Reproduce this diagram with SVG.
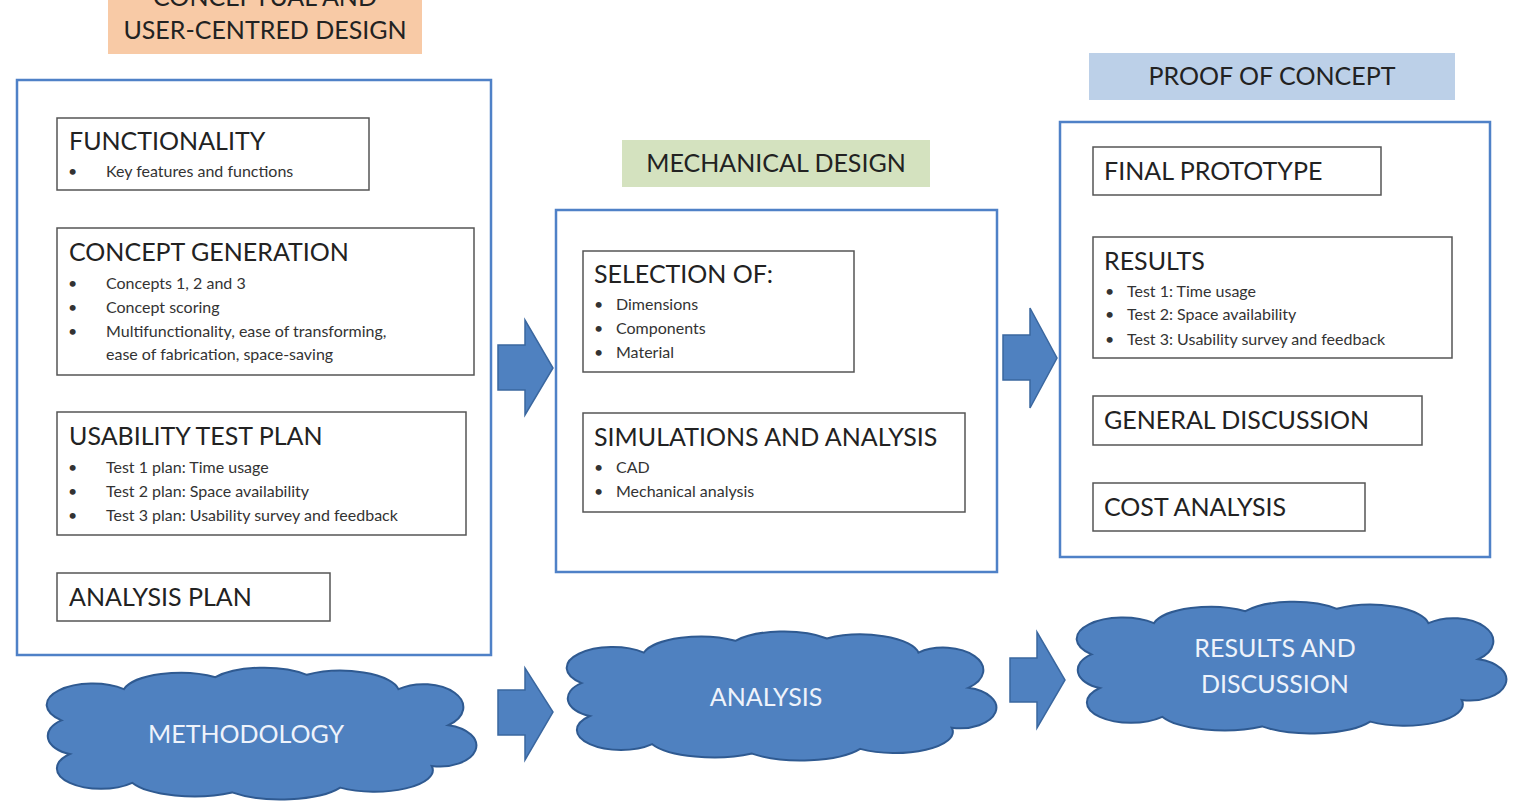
<svg xmlns="http://www.w3.org/2000/svg" width="1520" height="810" viewBox="0 0 1520 810">
<style>
.outer{fill:#fff;stroke:#4f81c7;stroke-width:2.5}
.inner{fill:#fff;stroke:#555;stroke-width:1.5}
.t{font-family:Lato,"Open Sans",sans-serif;font-size:25px;fill:#222}
.s{font-family:Lato,"Open Sans",sans-serif;font-size:16px;fill:#333}
.h{font-family:Lato,"Open Sans",sans-serif;font-size:25px;fill:#222;text-anchor:middle}
.c{font-family:Lato,"Open Sans",sans-serif;font-size:25px;fill:#eef3fb;text-anchor:middle}
.cl{fill:#4f81c0;stroke:#2f5a91;stroke-width:2}
.ar{fill:#4f81c0;stroke:#3a679f;stroke-width:1.5}
</style>
<defs>
<path id="cloud" d="M5,40 A8,8 0 0 1 3,26 A10,8 0 0 1 18,13 A14,9 0 0 1 40,8 A14,9 0 0 1 62,7 A14,9 0 0 1 84,13 A9,9 0 0 1 96,28 A8,8 0 0 1 92,45 A14,9 0 0 1 70,54 A16,9 0 0 1 44,56 A16,9 0 0 1 20,52 A10,8 0 0 1 5,40 Z" vector-effect="non-scaling-stroke"/>
</defs>
<rect width="1520" height="810" fill="#fff"/>

<g id="hdr-conceptual">
<rect x="108" y="-10" width="314" height="64" fill="#f8caa6"/>
<text class="h" x="265" y="6">CONCEPTUAL AND</text>
<text class="h" x="265" y="39">USER-CENTRED DESIGN</text>
</g>
<g id="hdr-mech"><rect x="622" y="140" width="308" height="47" fill="#d4e2bf"/><text class="h" x="776" y="172">MECHANICAL DESIGN</text></g>
<g id="hdr-proof"><rect x="1089" y="53" width="366" height="47" fill="#bcd0e8"/><text class="h" x="1272" y="85">PROOF OF CONCEPT</text></g>

<g id="left-box">
<rect class="outer" x="17" y="80" width="474" height="575"/>
<g id="functionality"><rect class="inner" x="57" y="118" width="312" height="72"/>
<text class="t" x="69" y="150">FUNCTIONALITY</text>
<text class="s" x="68" y="177">•</text><text class="s" x="106" y="177">Key features and functions</text></g>
<g id="concept"><rect class="inner" x="57" y="228" width="417" height="147"/>
<text class="t" x="69" y="261">CONCEPT GENERATION</text>
<text class="s" x="68" y="289">•</text><text class="s" x="106" y="289">Concepts 1, 2 and 3</text>
<text class="s" x="68" y="313">•</text><text class="s" x="106" y="313">Concept scoring</text>
<text class="s" x="68" y="337">•</text><text class="s" x="106" y="337">Multifunctionality, ease of transforming,</text>
<text class="s" x="106" y="360">ease of fabrication, space-saving</text></g>
<g id="usability"><rect class="inner" x="57" y="412" width="409" height="123"/>
<text class="t" x="69" y="445">USABILITY TEST PLAN</text>
<text class="s" x="68" y="473">•</text><text class="s" x="106" y="473">Test 1 plan: Time usage</text>
<text class="s" x="68" y="497">•</text><text class="s" x="106" y="497">Test 2 plan: Space availability</text>
<text class="s" x="68" y="521">•</text><text class="s" x="106" y="521">Test 3 plan: Usability survey and feedback</text></g>
<g id="analysisplan"><rect class="inner" x="57" y="573" width="273" height="48"/>
<text class="t" x="69" y="606">ANALYSIS PLAN</text></g>
</g>

<g id="mid-box">
<rect class="outer" x="556" y="210" width="441" height="362"/>
<g id="selection"><rect class="inner" x="583" y="251" width="271" height="121"/>
<text class="t" x="594" y="283">SELECTION OF:</text>
<text class="s" x="594" y="310">•</text><text class="s" x="616" y="310">Dimensions</text>
<text class="s" x="594" y="334">•</text><text class="s" x="616" y="334">Components</text>
<text class="s" x="594" y="358">•</text><text class="s" x="616" y="358">Material</text></g>
<g id="simulations"><rect class="inner" x="583" y="413" width="382" height="99"/>
<text class="t" x="594" y="446">SIMULATIONS AND ANALYSIS</text>
<text class="s" x="594" y="473">•</text><text class="s" x="616" y="473">CAD</text>
<text class="s" x="594" y="497">•</text><text class="s" x="616" y="497">Mechanical analysis</text></g>
</g>

<g id="right-box">
<rect class="outer" x="1060" y="122" width="430" height="435"/>
<g id="final"><rect class="inner" x="1093" y="147" width="288" height="48"/><text class="t" x="1104" y="180">FINAL PROTOTYPE</text></g>
<g id="results"><rect class="inner" x="1093" y="237" width="359" height="121"/>
<text class="t" x="1104" y="270">RESULTS</text>
<text class="s" x="1105" y="297">•</text><text class="s" x="1127" y="297">Test 1: Time usage</text>
<text class="s" x="1105" y="320">•</text><text class="s" x="1127" y="320">Test 2: Space availability</text>
<text class="s" x="1105" y="345">•</text><text class="s" x="1127" y="345">Test 3: Usability survey and feedback</text></g>
<g id="discussion"><rect class="inner" x="1093" y="396" width="329" height="49"/><text class="t" x="1104" y="429">GENERAL DISCUSSION</text></g>
<g id="cost"><rect class="inner" x="1093" y="483" width="272" height="48"/><text class="t" x="1104" y="516">COST ANALYSIS</text></g>
</g>

<g id="cloud-methodology"><use href="#cloud" class="cl" transform="translate(49,658) scale(4.16,2.4)"/><text class="c" x="246" y="743">METHODOLOGY</text></g>
<g id="cloud-analysis"><use href="#cloud" class="cl" transform="translate(569,622) scale(4.16,2.35)"/><text class="c" x="766" y="706">ANALYSIS</text></g>
<g id="cloud-results"><use href="#cloud" class="cl" transform="translate(1079,592) scale(4.16,2.4)"/><text class="c" x="1275" y="657">RESULTS AND</text><text class="c" x="1275" y="693">DISCUSSION</text></g>

<g id="connectors">
<path class="ar" d="M498,345 H525 V320 L553,368 L525,415 V390 H498 Z"/>
<path class="ar" d="M1003,335 H1030 V308 L1057,358 L1030,408 V380 H1003 Z"/>
<path class="ar" d="M498,690 H525 V668 L553,712 L525,760 V735 H498 Z"/>
<path class="ar" d="M1010,658 H1037 V632 L1065,680 L1037,728 V702 H1010 Z"/>
</g>
</svg>
